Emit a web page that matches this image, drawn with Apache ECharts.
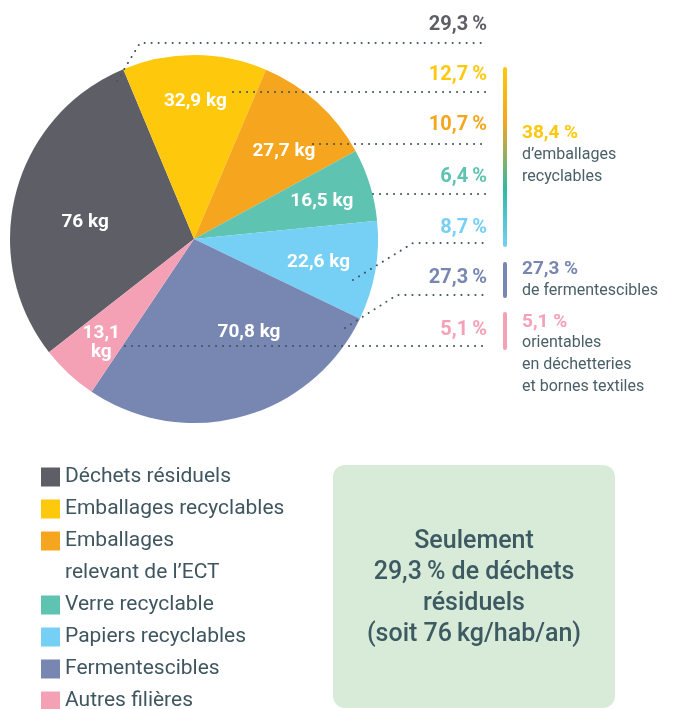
<!DOCTYPE html>
<html>
<head>
<meta charset="utf-8">
<style>
  html, body { margin: 0; padding: 0; background: #fff; }
  #main { width: 682px; height: 709px; }
</style>
<script src="https://cdn.jsdelivr.net/npm/echarts@6/dist/echarts.min.js"></script>
</head>
<body>
<div id="main"></div>
<script>
// données
var categories = ['Déchets résiduels', 'Emballages recyclables', 'Emballages relevant de l’ECT',
  'Verre recyclable', 'Papiers recyclables', 'Fermentescibles', 'Autres filières'];
var kgValues = [76, 32.9, 27.7, 16.5, 22.6, 70.8, 13.1];
var sharePct = [29.3, 12.7, 10.7, 6.4, 8.7, 27.3, 5.1];
var groupPct = [38.4, 27.3, 5.1];
var groupText = ['d’emballages\nrecyclables', 'de fermentescibles', 'orientables\nen déchetteries\net bornes textiles'];

// styles
var colors = ['#5e5e66', '#fec80c', '#f6a51e', '#5ec3b1', '#76cff4', '#7787b2', '#f4a1b6'];
var groupColors = ['#fec80c', '#7787b2', '#f4a1b6'];
var textColor = '#3f5660';
var font = 'Roboto, "DejaVu Sans", sans-serif';
var pieCenter = [194, 239];
var pieRadius = 184;
var startAngle = 218;

// décalage des étiquettes kg dans les parts
var innerOffsets = [[-17, 7], [1, -43], [26, -17], [37, -10], [31, 7], [30, 2], [-28, 34]];
// étiquettes % à droite + traits pointillés
var pctRight = 487;
var pctY = [25, 75, 125, 177, 228, 278, 330];
var leaders = [
  [[117, 81], [140, 43], [487, 43]],
  [[233, 92], [240, 92], [487, 92]],
  [[313, 144], [320, 144], [487, 144]],
  [[373, 194], [380, 194], [487, 194]],
  [[353, 280], [413, 243], [487, 243]],
  [[345, 328], [397, 295], [487, 295]],
  [[125, 346], [140, 346], [487, 346]]
];

function fr(v) { return v.toFixed(1).replace('.', ','); }
function kgLabel(v, i) {
  var s = (v % 1 ? fr(v) : String(v));
  return i === 6 ? s + '\nkg' : s + ' kg';
}

var myChart = echarts.init(document.getElementById('main'));

var graphics = [
  // encadré vert
  { type: 'rect', z: 0, shape: { x: 333, y: 465, width: 282, height: 243, r: 12 }, style: { fill: '#d8ebd8' } },
  { type: 'text', z: 1, x: 474, y: 588, style: {
      text: 'Seulement\n' + fr(sharePct[0]) + '\u2009% de déchets\nrésiduels\n(soit ' + kgValues[0] + '\u2009kg/hab/an)',
      fontFamily: font, fontSize: 25, fontWeight: 500, fill: '#3d5a62',
      align: 'center', verticalAlign: 'middle', lineHeight: 31 } },
  // barres de regroupement
  { type: 'rect', shape: { x: 503, y: 67, width: 4, height: 180, r: 2 }, style: {
      fill: new echarts.graphic.LinearGradient(0, 0, 0, 1, [
        { offset: 0, color: '#fec80c' }, { offset: 0.3, color: '#f6a51e' },
        { offset: 0.68, color: '#2fbaa4' }, { offset: 1, color: '#76cff4' }]) } },
  { type: 'rect', shape: { x: 503, y: 262, width: 4, height: 36, r: 2 }, style: { fill: groupColors[1] } },
  { type: 'rect', shape: { x: 503, y: 312, width: 4, height: 38, r: 2 }, style: { fill: groupColors[2] } }
];
var groupY = [133, 269, 322];
var groupTextY = [166, 291, 365];
for (var g = 0; g < groupPct.length; g++) {
  graphics.push({ type: 'text', x: 522, y: groupY[g], style: {
    text: fr(groupPct[g]) + ' %', fontFamily: font, fontSize: 19, fontWeight: 'bold',
    fill: groupColors[g], verticalAlign: 'middle' } });
  graphics.push({ type: 'text', x: 522, y: groupTextY[g], style: {
    text: groupText[g], fontFamily: font, fontSize: 16, fill: '#4a6068',
    verticalAlign: 'middle', lineHeight: 22 } });
}

var legendBase = {
  orient: 'vertical', left: 41, padding: 0, itemGap: 0,
  itemWidth: 19, itemHeight: 19, icon: 'rect', selectedMode: false,
  textStyle: { fontFamily: font, fontSize: 21, color: textColor, lineHeight: 32 }
};

myChart.setOption({
  animation: false,
  legend: [
    Object.assign({}, legendBase, { top: 461, data: categories.slice(0, 2) }),
    Object.assign({}, legendBase, {
      top: 493,
      data: categories.slice(2),
      // ligne vide en tête : la 1re ligne du libellé reste alignée sur le carré
      formatter: function (n) { return n === categories[2] ? '\nEmballages\nrelevant de l’ECT' : n; }
    })
  ],
  graphic: graphics,
  series: [
    {
      type: 'pie',
      center: pieCenter,
      radius: pieRadius,
      startAngle: startAngle,
      silent: true,
      avoidLabelOverlap: false,
      itemStyle: { borderWidth: 0 },
      label: {
        position: 'inside', color: '#fff', fontFamily: font,
        fontWeight: 'bold', fontSize: 19, lineHeight: 19
      },
      labelLine: { show: false },
      data: categories.map(function (name, i) {
        return {
          name: name, value: kgValues[i],
          itemStyle: { color: colors[i] },
          label: { offset: innerOffsets[i], formatter: kgLabel(kgValues[i], i) }
        };
      })
    },
    {
      // même données, seulement pour les % et les pointillés
      type: 'pie',
      center: pieCenter,
      radius: pieRadius,
      startAngle: startAngle,
      silent: true,
      z: 3,
      avoidLabelOverlap: false,
      itemStyle: { color: 'rgba(0,0,0,0)', borderWidth: 0 },
      label: {
        position: 'outside', fontFamily: font, fontWeight: 'bold', fontSize: 20,
        formatter: function (p) { return fr(sharePct[p.dataIndex]) + '\u2009%'; }
      },
      labelLine: {
        show: true, smooth: false,
        lineStyle: { color: textColor, width: 2, type: [0.1, 6.9], cap: 'round' }
      },
      labelLayout: function (p) {
        return {
          x: pctRight, y: pctY[p.dataIndex], align: 'right', verticalAlign: 'middle',
          labelLinePoints: leaders[p.dataIndex]
        };
      },
      data: categories.map(function (name, i) {
        return { name: name, value: kgValues[i], label: { color: colors[i] } };
      })
    }
  ]
});
</script>
</body>
</html>
